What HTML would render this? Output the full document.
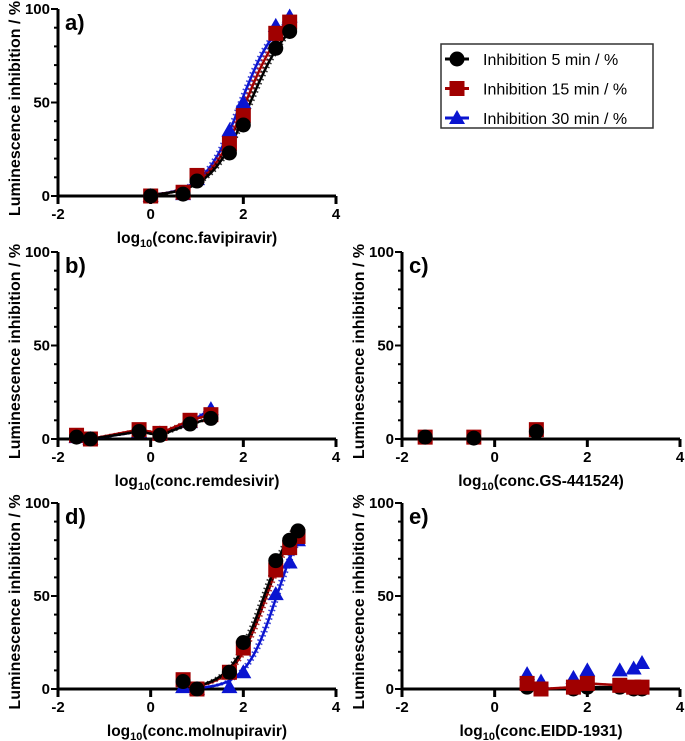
<!DOCTYPE html>
<html><head><meta charset="utf-8"><style>
html,body{margin:0;padding:0;background:#fff;width:685px;height:741px;overflow:hidden}
svg{display:block;font-family:"Liberation Sans",Arial,sans-serif}
</style></head><body>
<svg id="chart" width="685" height="741" viewBox="0 0 685 741"></svg>
<script>
const seriesNames=["Inhibition 5 min / %","Inhibition 15 min / %","Inhibition 30 min / %"];
const colors=["#000000","#a00000","#0a14d0"];
const xTicks=[-2,0,2,4];
const yTicks=[0,50,100];
// panel a favipiravir
const aX=[0,0.7,1,1.7,2,2.7,3];
const aBlack=[0,1,8,23,38,79,88];
const aRed=[0,2,11,28,43,87,93];
const aBlue=[0,1,9,35,50,91,96];
const aEC50=[2.15,2.05,1.95];
const aHill=[1.0,1.05,1.1];
// panel b remdesivir
const bX=[-1.6,-1.3,-0.25,0.2,0.85,1.3];
const bBlack=[1,0,4,2,8,11];
const bRed=[2,0,5,3,10,13];
const bBlue=[1,0,4,3,9,16];
// panel c GS-441524
const cX=[-1.5,-0.45,0.9];
const cBlack=[1,0.5,4];
const cRed=[1,1,5];
const cBlue=[0.5,0.5,4];
// panel d molnupiravir
const dX=[0.7,1,1.7,2,2.7,3,3.18];
const dBlack=[4,0,9,25,69,80,85];
const dRed=[5,0,9,22,64,76,82];
const dBlue=[1,0,1,9,51,68,80];
const dEC50=[2.45,2.5,2.72];
const dHill=[1.2,1.2,1.3];
// panel e EIDD-1931
const eX=[0.7,1,1.7,2,2.7,3,3.18];
const eBlack=[1,0,0,1,1,0,0];
const eRed=[3,0,1,3,2,1,1];
const eBlue=[8,4,6,10,10,11,14];

const NS="http://www.w3.org/2000/svg";
const svg=document.getElementById('chart');
function mk(tag,attrs,parent){const e=document.createElementNS(NS,tag);for(const k in attrs)e.setAttribute(k,attrs[k]);(parent||svg).appendChild(e);return e;}

function marker(g,k,x,y){
  let m;
  if(k===0)m=mk('circle',{cx:x,cy:y,r:7.5,fill:colors[0]},g);
  else if(k===1)m=mk('rect',{x:x-7.5,y:y-7.5,width:15,height:15,fill:colors[1]},g);
  else m=mk('polygon',{points:`${x},${y-8} ${x+8},${y+6} ${x-8},${y+6}`,fill:colors[2]},g);
  return m;
}

function panel(p){
  const g=mk('g',{});
  
  
  const sx=v=>p.x0+(v+2)/6*(p.x1-p.x0);
  const sy=v=>p.y0-(v/100)*(p.y0-p.y1);
  const ax=mk('g',{},g);
  
  
  mk('line',{x1:p.x0,y1:p.y1,x2:p.x0,y2:p.y0+1.5,stroke:'#000','stroke-width':3},ax);
  mk('line',{x1:p.x0-1.5,y1:p.y0,x2:p.x1,y2:p.y0,stroke:'#000','stroke-width':3},ax);
  for(let v=0;v<=100;v+=10){const big=v%50===0;mk('line',{x1:p.x0-(big?7:4),y1:sy(v),x2:p.x0,y2:sy(v),stroke:'#000','stroke-width':2},ax);}
  yTicks.forEach(v=>{const t=mk('text',{x:p.x0-8,y:sy(v)+5,'text-anchor':'end','font-size':15,'font-weight':'bold'},ax);t.textContent=v;
    });
  xTicks.forEach(v=>{mk('line',{x1:sx(v),y1:p.y0,x2:sx(v),y2:p.y0+8,stroke:'#000','stroke-width':3},ax);
    const t=mk('text',{x:sx(v),y:p.y0+23,'text-anchor':'middle','font-size':15,'font-weight':'bold'},ax);t.textContent=v;
    });
  const xt=mk('text',{x:(p.x0+p.x1)/2,y:p.y0+47,'text-anchor':'middle','font-size':15.5,'font-weight':'bold'},ax);
  xt.innerHTML='log<tspan font-size="11" dy="4">10</tspan><tspan dy="-4">(conc.'+p.drug+')</tspan>';
  
  const yt=mk('text',{x:0,y:0,'text-anchor':'middle','font-size':16,'font-weight':'bold',transform:`translate(${p.x0-38},${(p.y0+p.y1)/2+6}) rotate(-90)`},ax);
  yt.textContent='Luminescence inhibition / %';
  
  const lt=mk('text',{x:p.x0+7,y:p.y1+21,'font-size':22,'font-weight':'bold'},ax);
  lt.textContent=p.id+')';
  
  const order=p.order||[2,1,0];
  order.forEach(k=>{
    if(p.noLine&&p.noLine.includes(k))return;
    let pts=[];
    if(p.fit){
      const lo=p.fitRange[0],hi=p.fitRange[1];
      for(let i=0;i<=60;i++){const x=lo+(hi-lo)*i/60;const y=100/(1+Math.pow(10,(p.fit.ec[k]-x)*p.fit.h[k]));pts.push([sx(x),sy(y)]);}
    } else if(p.line){
      p.xs.forEach((x,i)=>pts.push([sx(x),sy(p.ys[k][i])]));
    }
    if(pts.length){
      const d=pts.map(q=>q[0].toFixed(1)+','+q[1].toFixed(1)).join(' ');
      const cl=mk('polyline',{points:d,fill:'none',stroke:colors[k],'stroke-width':2.5},g);
      
      [-2.5,2.5].forEach(o=>{mk('polyline',{points:pts.map(q=>(q[0]-o).toFixed(1)+','+(q[1]).toFixed(1)).join(' '),fill:'none',stroke:colors[k],'stroke-width':2,'stroke-dasharray':'1.5 3','opacity':0.8},g);});
    }
  });
  order.forEach(k=>{
    if(p.skip&&p.skip.includes(k))return;
    p.xs.forEach((x,i)=>{const m=marker(g,k,sx(x),sy(p.ys[k][i]));
      });
  });
}
panel({id:'a',drug:'favipiravir',x0:58,x1:336,y0:196,y1:9,xs:aX,ys:[aBlack,aRed,aBlue],fit:{ec:aEC50,h:aHill},fitRange:[0,3]});
panel({id:'b',drug:'remdesivir',x0:58,x1:336,y0:439,y1:252,xs:bX,ys:[bBlack,bRed,bBlue],line:true});
panel({id:'c',drug:'GS-441524',x0:402,x1:680,y0:439,y1:252,xs:cX,ys:[cBlack,cRed,cBlue],skip:[2]});
panel({id:'d',drug:'molnupiravir',x0:58,x1:336,y0:689,y1:503,xs:dX,ys:[dBlack,dRed,dBlue],fit:{ec:dEC50,h:dHill},fitRange:[0.7,3.18]});
panel({id:'e',drug:'EIDD-1931',x0:402,x1:680,y0:689,y1:503,xs:eX,ys:[eBlack,eRed,eBlue],line:true,noLine:[2],order:[0,2,1]});
// legend
const lg=mk('g',{});


mk('rect',{x:441,y:44,width:212,height:84,fill:'#fff',stroke:'#333','stroke-width':1.5},lg);
seriesNames.forEach((n,k)=>{
  const y=59+k*29.5;
  const e=mk('g',{},lg);
  
  
  mk('line',{x1:445,y1:y,x2:469,y2:y,stroke:colors[k],'stroke-width':3},e);
  marker(e,k,457,y);
  const t=mk('text',{x:483,y:y+6,'font-size':16},e);t.textContent=n;
});
</script>
</body></html>
